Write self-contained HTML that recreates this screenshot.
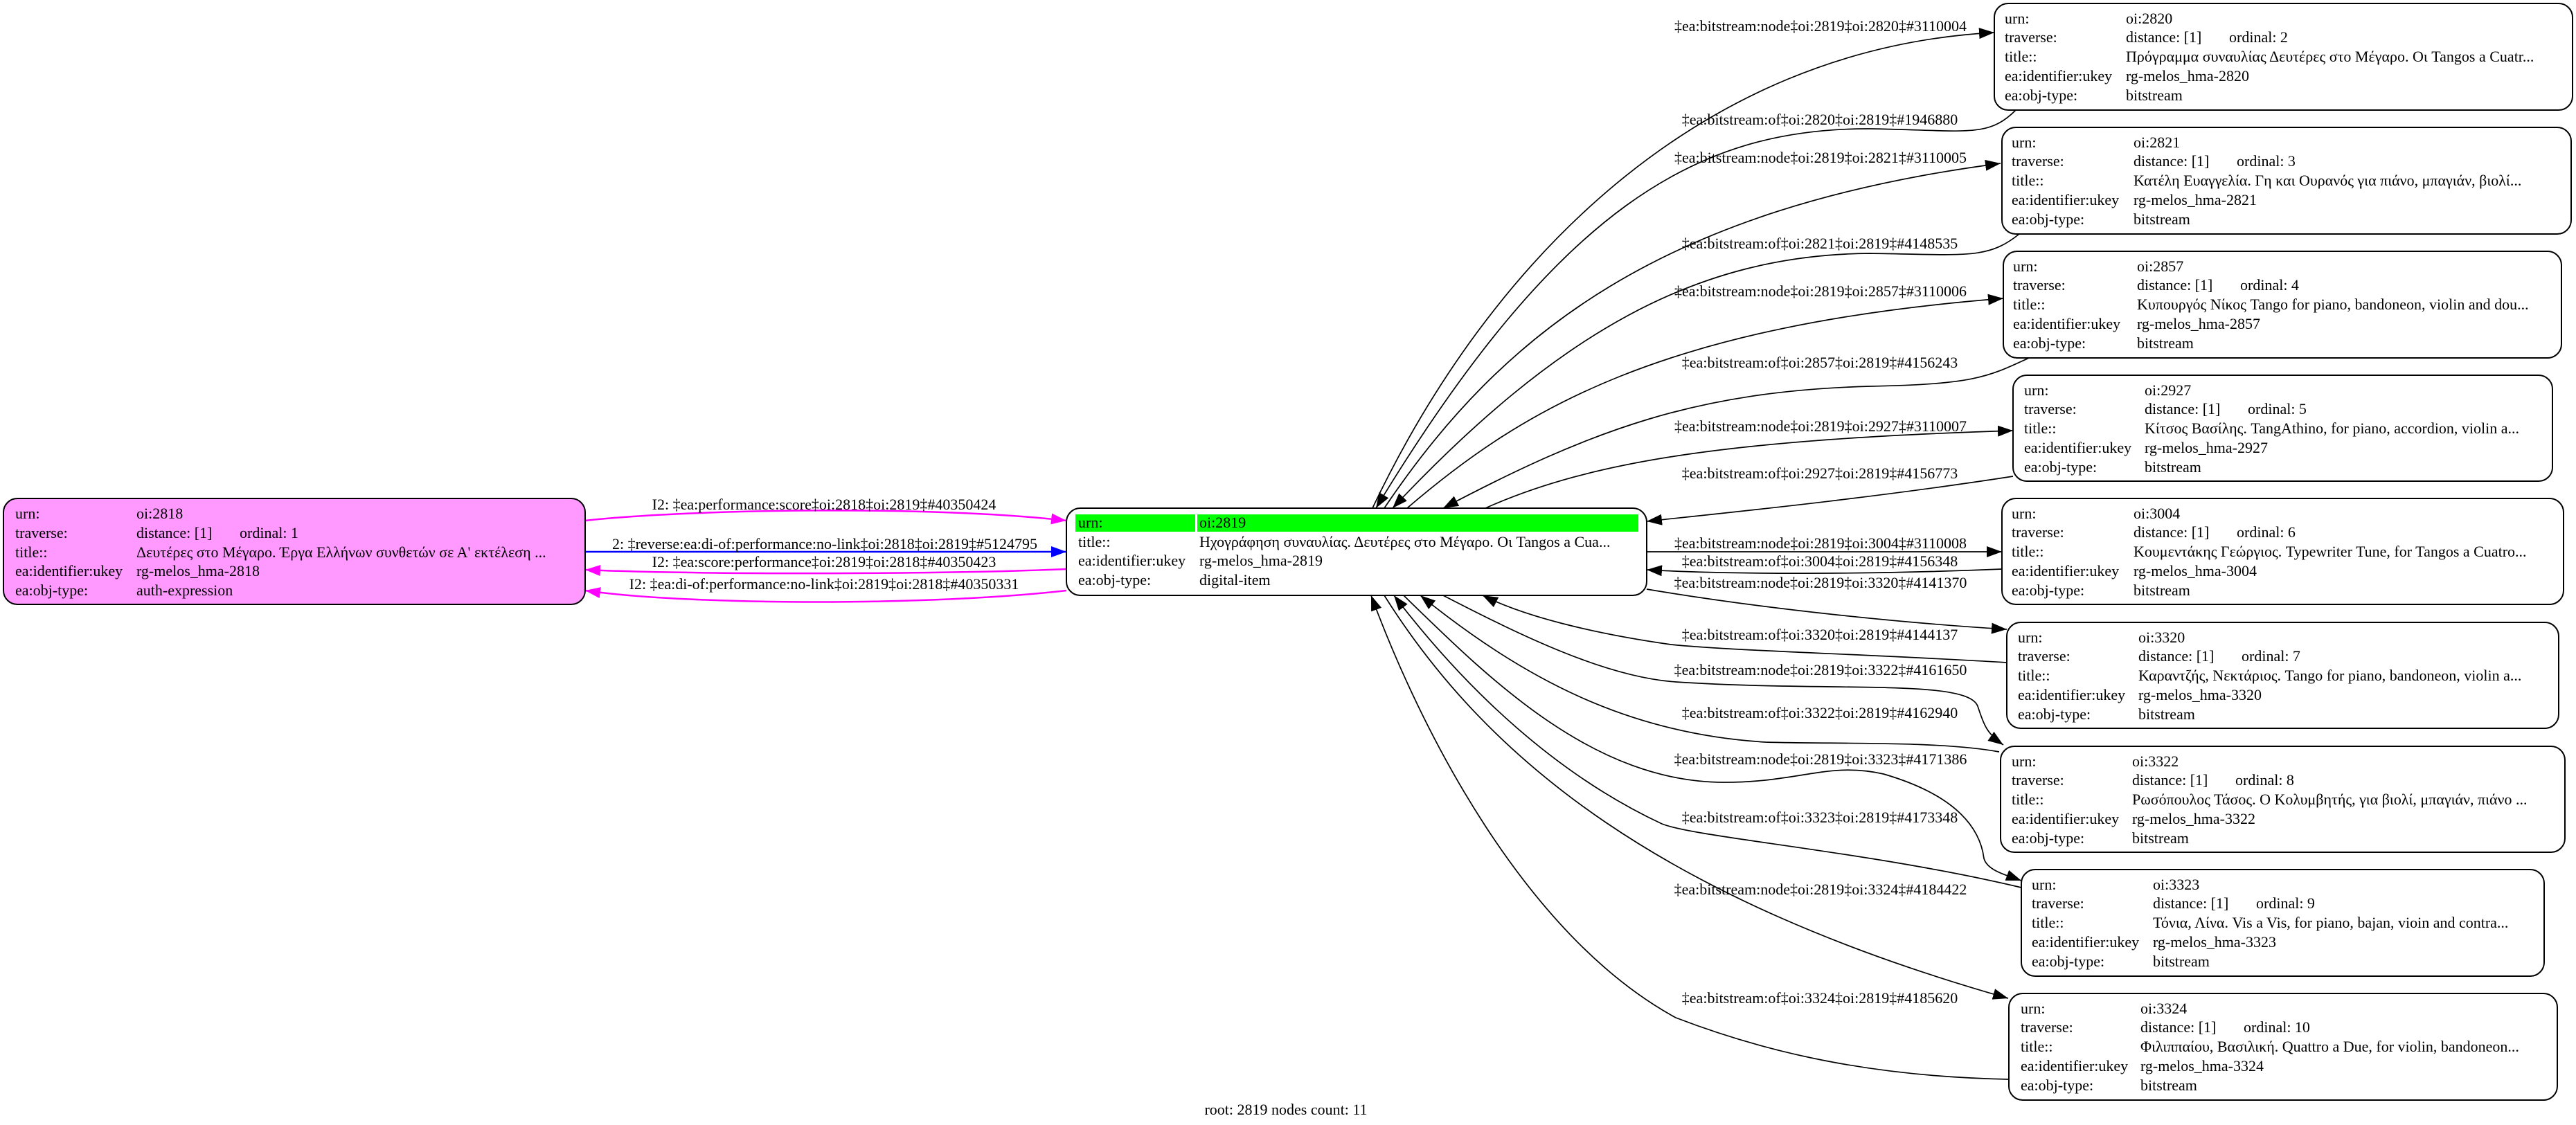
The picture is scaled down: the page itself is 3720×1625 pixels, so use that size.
<!DOCTYPE html>
<html><head><meta charset="utf-8"><style>
html,body{margin:0;padding:0;background:#fff}
svg{display:block}
text{font-family:"Liberation Serif","DejaVu Serif",serif;font-size:22px;fill:#000}
.e{fill:none;stroke:#000;stroke-width:1.7}
.bx{fill:#fff;stroke:#000;stroke-width:2}
.lb{text-anchor:middle}
</style></head><body>
<svg width="3720" height="1625" viewBox="0 0 3720 1625" xmlns="http://www.w3.org/2000/svg">
<defs>
<marker id="am" viewBox="0 0 10 10" refX="10" refY="5" markerWidth="22" markerHeight="16" markerUnits="userSpaceOnUse" orient="auto" preserveAspectRatio="none"><path d="M0,0 L10,5 L0,10z" fill="#ff00ff"/></marker>
<marker id="ab" viewBox="0 0 10 10" refX="10" refY="5" markerWidth="22" markerHeight="16" markerUnits="userSpaceOnUse" orient="auto" preserveAspectRatio="none"><path d="M0,0 L10,5 L0,10z" fill="#0000ff"/></marker>
<marker id="k" viewBox="0 0 10 10" refX="10" refY="5" markerWidth="22" markerHeight="16" markerUnits="userSpaceOnUse" orient="auto" preserveAspectRatio="none"><path d="M0,0 L10,5 L0,10z" fill="#000"/></marker>
</defs>

<path d="M845,752 C1000,735 1350,730 1540,752" fill="none" stroke="#ff00ff" stroke-width="2.5" marker-end="url(#am)"/>
<path d="M845,797 L1540,797" fill="none" stroke="#0000ff" stroke-width="2.5" marker-end="url(#ab)"/>
<path d="M1540,822 C1350,830 1000,830 845,823" fill="none" stroke="#ff00ff" stroke-width="2.5" marker-end="url(#am)"/>
<path d="M1540,853 C1350,875 1000,875 845,853" fill="none" stroke="#ff00ff" stroke-width="2.5" marker-end="url(#am)"/>
<text class="lb" x="1190" y="736">I2: ‡ea:performance:score‡oi:2818‡oi:2819‡#40350424</text>
<text class="lb" x="1191" y="793">2: ‡reverse:ea:di-of:performance:no-link‡oi:2818‡oi:2819‡#5124795</text>
<text class="lb" x="1190" y="819">I2: ‡ea:score:performance‡oi:2819‡oi:2818‡#40350423</text>
<text class="lb" x="1190" y="851">I2: ‡ea:di-of:performance:no-link‡oi:2819‡oi:2818‡#40350331</text>

<path class="e" d="M1982,734 C2150,380 2450,70 2880,47" marker-end="url(#k)"/>
<path class="e" d="M2911,159 C2870,200 2840,188 2700,186 C2450,185 2250,300 1987,734" marker-end="url(#k)"/>
<path class="e" d="M1999,734 C2170,480 2400,300 2889,236" marker-end="url(#k)"/>
<path class="e" d="M2916,338 C2870,375 2840,368 2700,366 C2450,368 2250,480 2011,734" marker-end="url(#k)"/>
<path class="e" d="M2032,734 C2200,590 2400,470 2893,431" marker-end="url(#k)"/>
<path class="e" d="M2930,517 C2870,545 2850,555 2700,558 C2450,565 2300,620 2084,734" marker-end="url(#k)"/>
<path class="e" d="M2145,734 C2300,665 2500,635 2907,622" marker-end="url(#k)"/>
<path class="e" d="M2907,688 C2700,720 2500,740 2378,753" marker-end="url(#k)"/>
<path class="e" d="M2378,797 L2891,797" marker-end="url(#k)"/>
<path class="e" d="M2891,822 C2700,830 2500,830 2378,823" marker-end="url(#k)"/>
<path class="e" d="M2378,851 C2550,880 2750,900 2898,909" marker-end="url(#k)"/>
<path class="e" d="M2898,957 C2700,945 2500,940 2413,931 C2300,915 2200,890 2141,860" marker-end="url(#k)"/>
<path class="e" d="M2084,860 C2200,920 2320,978 2420,985 C2650,1000 2840,980 2856,1020 C2866,1050 2870,1060 2893,1076" marker-end="url(#k)"/>
<path class="e" d="M2887,1086 C2800,1070 2650,1075 2550,1072 C2350,1060 2200,980 2051,860" marker-end="url(#k)"/>
<path class="e" d="M2027,860 C2150,980 2300,1130 2490,1130 C2600,1130 2640,1100 2720,1118 C2830,1150 2860,1200 2865,1240 C2870,1258 2900,1265 2919,1272" marker-end="url(#k)"/>
<path class="e" d="M2919,1282 C2700,1230 2450,1210 2400,1190 C2250,1120 2120,1000 2013,860" marker-end="url(#k)"/>
<path class="e" d="M1999,860 C2150,1100 2400,1300 2900,1442" marker-end="url(#k)"/>
<path class="e" d="M2901,1559 C2700,1555 2550,1520 2420,1470 C2200,1350 2050,1050 1980,860" marker-end="url(#k)"/>

<text class="lb" x="2629" y="45">‡ea:bitstream:node‡oi:2819‡oi:2820‡#3110004</text>
<text class="lb" x="2628" y="180">‡ea:bitstream:of‡oi:2820‡oi:2819‡#1946880</text>
<text class="lb" x="2629" y="235">‡ea:bitstream:node‡oi:2819‡oi:2821‡#3110005</text>
<text class="lb" x="2628" y="359">‡ea:bitstream:of‡oi:2821‡oi:2819‡#4148535</text>
<text class="lb" x="2629" y="428">‡ea:bitstream:node‡oi:2819‡oi:2857‡#3110006</text>
<text class="lb" x="2628" y="531">‡ea:bitstream:of‡oi:2857‡oi:2819‡#4156243</text>
<text class="lb" x="2629" y="623">‡ea:bitstream:node‡oi:2819‡oi:2927‡#3110007</text>
<text class="lb" x="2628" y="691">‡ea:bitstream:of‡oi:2927‡oi:2819‡#4156773</text>
<text class="lb" x="2629" y="792">‡ea:bitstream:node‡oi:2819‡oi:3004‡#3110008</text>
<text class="lb" x="2628" y="818">‡ea:bitstream:of‡oi:3004‡oi:2819‡#4156348</text>
<text class="lb" x="2629" y="849">‡ea:bitstream:node‡oi:2819‡oi:3320‡#4141370</text>
<text class="lb" x="2628" y="924">‡ea:bitstream:of‡oi:3320‡oi:2819‡#4144137</text>
<text class="lb" x="2629" y="975">‡ea:bitstream:node‡oi:2819‡oi:3322‡#4161650</text>
<text class="lb" x="2628" y="1037">‡ea:bitstream:of‡oi:3322‡oi:2819‡#4162940</text>
<text class="lb" x="2629" y="1104">‡ea:bitstream:node‡oi:2819‡oi:3323‡#4171386</text>
<text class="lb" x="2628" y="1188">‡ea:bitstream:of‡oi:3323‡oi:2819‡#4173348</text>
<text class="lb" x="2629" y="1292">‡ea:bitstream:node‡oi:2819‡oi:3324‡#4184422</text>
<text class="lb" x="2628" y="1449">‡ea:bitstream:of‡oi:3324‡oi:2819‡#4185620</text>

<rect x="5" y="720" width="840" height="153" rx="20" fill="#ff99ff" stroke="#000" stroke-width="2"/>
<text x="22" y="749">urn:</text><text x="197" y="749">oi:2818</text>
<text x="22" y="777">traverse:</text><text x="197" y="777">distance: [1]</text><text x="346" y="777">ordinal: 1</text>
<text x="22" y="805">title::</text><text x="197" y="805">Δευτέρες στο Μέγαρο. Έργα Ελλήνων συνθετών σε Α' εκτέλεση ...</text>
<text x="22" y="832">ea:identifier:ukey</text><text x="197" y="832">rg-melos_hma-2818</text>
<text x="22" y="860">ea:obj-type:</text><text x="197" y="860">auth-expression</text>

<rect class="bx" x="1540" y="734" width="838" height="126" rx="20"/>
<rect x="1553" y="743" width="173" height="25" fill="#00ff00"/>
<rect x="1729" y="743" width="637" height="25" fill="#00ff00"/>
<text x="1557" y="762">urn:</text><text x="1732" y="762">oi:2819</text>
<text x="1557" y="790">title::</text><text x="1732" y="790">Ηχογράφηση συναυλίας. Δευτέρες στο Μέγαρο. Οι Tangos a Cua...</text>
<text x="1557" y="817">ea:identifier:ukey</text><text x="1732" y="817">rg-melos_hma-2819</text>
<text x="1557" y="845">ea:obj-type:</text><text x="1732" y="845">digital-item</text>

<rect class="bx" x="2880" y="5" width="835" height="154" rx="20"/>
<text x="2895" y="34">urn:</text><text x="3070" y="34">oi:2820</text>
<text x="2895" y="61">traverse:</text><text x="3070" y="61">distance: [1]</text><text x="3219" y="61">ordinal: 2</text>
<text x="2895" y="89">title::</text><text x="3070" y="89">Πρόγραμμα συναυλίας Δευτέρες στο Μέγαρο. Οι Tangos a Cuatr...</text>
<text x="2895" y="117">ea:identifier:ukey</text><text x="3070" y="117">rg-melos_hma-2820</text>
<text x="2895" y="145">ea:obj-type:</text><text x="3070" y="145">bitstream</text>

<rect class="bx" x="2891" y="184" width="822" height="154" rx="20"/>
<text x="2905" y="213">urn:</text><text x="3081" y="213">oi:2821</text>
<text x="2905" y="240">traverse:</text><text x="3081" y="240">distance: [1]</text><text x="3230" y="240">ordinal: 3</text>
<text x="2905" y="268">title::</text><text x="3081" y="268">Κατέλη Ευαγγελία. Γη και Ουρανός για πιάνο, μπαγιάν, βιολί...</text>
<text x="2905" y="296">ea:identifier:ukey</text><text x="3081" y="296">rg-melos_hma-2821</text>
<text x="2905" y="324">ea:obj-type:</text><text x="3081" y="324">bitstream</text>

<rect class="bx" x="2893" y="363" width="806" height="154" rx="20"/>
<text x="2907" y="392">urn:</text><text x="3086" y="392">oi:2857</text>
<text x="2907" y="419">traverse:</text><text x="3086" y="419">distance: [1]</text><text x="3235" y="419">ordinal: 4</text>
<text x="2907" y="447">title::</text><text x="3086" y="447">Κυπουργός Νίκος Tango for piano, bandoneon, violin and dou...</text>
<text x="2907" y="475">ea:identifier:ukey</text><text x="3086" y="475">rg-melos_hma-2857</text>
<text x="2907" y="503">ea:obj-type:</text><text x="3086" y="503">bitstream</text>

<rect class="bx" x="2907" y="542" width="779" height="153" rx="20"/>
<text x="2923" y="571">urn:</text><text x="3097" y="571">oi:2927</text>
<text x="2923" y="598">traverse:</text><text x="3097" y="598">distance: [1]</text><text x="3246" y="598">ordinal: 5</text>
<text x="2923" y="626">title::</text><text x="3097" y="626">Κίτσος Βασίλης. TangAthino, for piano, accordion, violin a...</text>
<text x="2923" y="654">ea:identifier:ukey</text><text x="3097" y="654">rg-melos_hma-2927</text>
<text x="2923" y="682">ea:obj-type:</text><text x="3097" y="682">bitstream</text>

<rect class="bx" x="2891" y="720" width="811" height="153" rx="20"/>
<text x="2905" y="749">urn:</text><text x="3081" y="749">oi:3004</text>
<text x="2905" y="776">traverse:</text><text x="3081" y="776">distance: [1]</text><text x="3230" y="776">ordinal: 6</text>
<text x="2905" y="804">title::</text><text x="3081" y="804">Κουμεντάκης Γεώργιος. Typewriter Tune, for Tangos a Cuatro...</text>
<text x="2905" y="832">ea:identifier:ukey</text><text x="3081" y="832">rg-melos_hma-3004</text>
<text x="2905" y="860">ea:obj-type:</text><text x="3081" y="860">bitstream</text>

<rect class="bx" x="2898" y="899" width="797" height="153" rx="20"/>
<text x="2914" y="928">urn:</text><text x="3088" y="928">oi:3320</text>
<text x="2914" y="955">traverse:</text><text x="3088" y="955">distance: [1]</text><text x="3237" y="955">ordinal: 7</text>
<text x="2914" y="983">title::</text><text x="3088" y="983">Καραντζής, Νεκτάριος. Tango for piano, bandoneon, violin a...</text>
<text x="2914" y="1011">ea:identifier:ukey</text><text x="3088" y="1011">rg-melos_hma-3320</text>
<text x="2914" y="1039">ea:obj-type:</text><text x="3088" y="1039">bitstream</text>

<rect class="bx" x="2889" y="1078" width="815" height="153" rx="20"/>
<text x="2905" y="1107">urn:</text><text x="3079" y="1107">oi:3322</text>
<text x="2905" y="1134">traverse:</text><text x="3079" y="1134">distance: [1]</text><text x="3228" y="1134">ordinal: 8</text>
<text x="2905" y="1162">title::</text><text x="3079" y="1162">Ρωσόπουλος Τάσος. Ο Κολυμβητής, για βιολί, μπαγιάν, πιάνο ...</text>
<text x="2905" y="1190">ea:identifier:ukey</text><text x="3079" y="1190">rg-melos_hma-3322</text>
<text x="2905" y="1218">ea:obj-type:</text><text x="3079" y="1218">bitstream</text>

<rect class="bx" x="2919" y="1256" width="755" height="154" rx="20"/>
<text x="2934" y="1285">urn:</text><text x="3109" y="1285">oi:3323</text>
<text x="2934" y="1312">traverse:</text><text x="3109" y="1312">distance: [1]</text><text x="3258" y="1312">ordinal: 9</text>
<text x="2934" y="1340">title::</text><text x="3109" y="1340">Τόνια, Λίνα. Vis a Vis, for piano, bajan, vioin and contra...</text>
<text x="2934" y="1368">ea:identifier:ukey</text><text x="3109" y="1368">rg-melos_hma-3323</text>
<text x="2934" y="1396">ea:obj-type:</text><text x="3109" y="1396">bitstream</text>

<rect class="bx" x="2901" y="1435" width="792" height="154" rx="20"/>
<text x="2918" y="1464">urn:</text><text x="3091" y="1464">oi:3324</text>
<text x="2918" y="1491">traverse:</text><text x="3091" y="1491">distance: [1]</text><text x="3240" y="1491">ordinal: 10</text>
<text x="2918" y="1519">title::</text><text x="3091" y="1519">Φιλιππαίου, Βασιλική. Quattro a Due, for violin, bandoneon...</text>
<text x="2918" y="1547">ea:identifier:ukey</text><text x="3091" y="1547">rg-melos_hma-3324</text>
<text x="2918" y="1575">ea:obj-type:</text><text x="3091" y="1575">bitstream</text>

<text class="lb" x="1857" y="1610">root: 2819 nodes count: 11</text>
</svg>
</body></html>
